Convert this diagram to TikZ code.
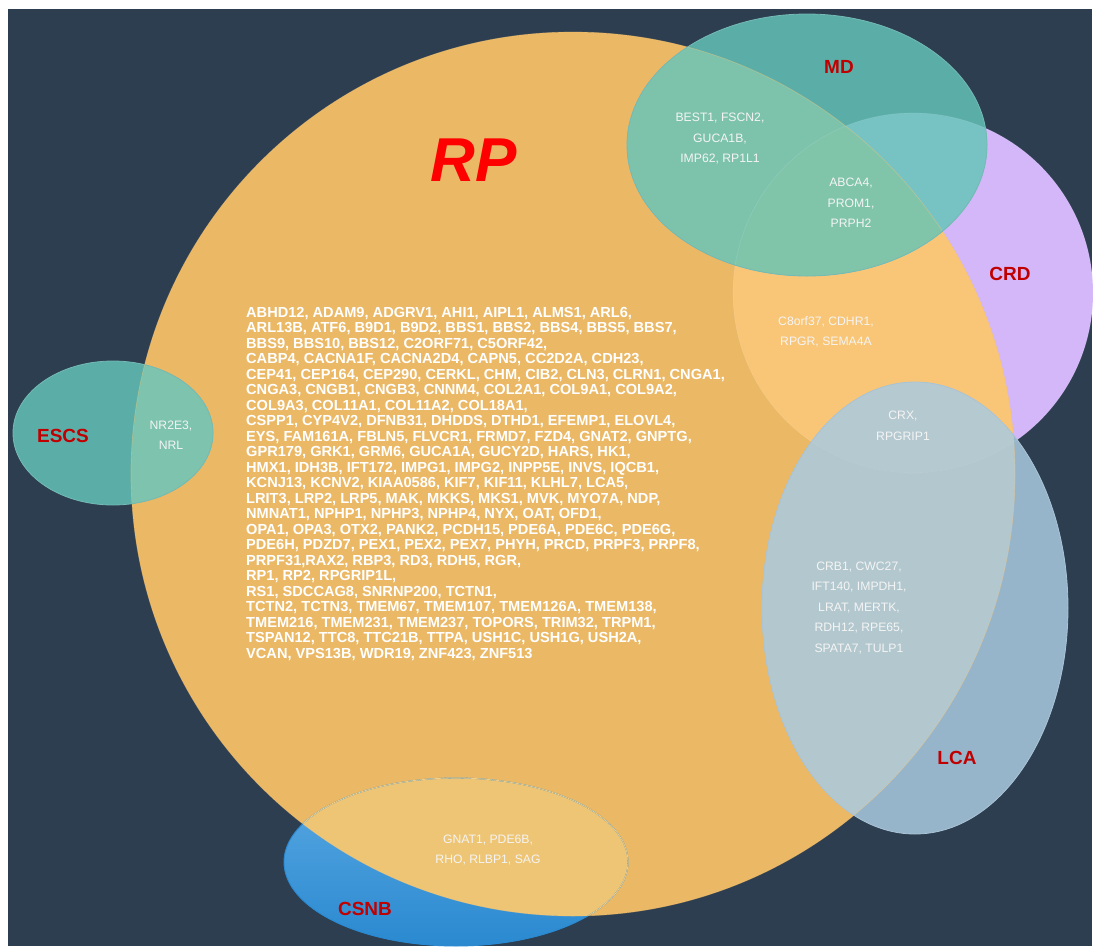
\documentclass[tikz,border=0pt]{standalone}
\usepackage{fontspec}
\setmainfont{Liberation Sans}
\definecolor{bg}{HTML}{2C3E50}
\definecolor{rp}{HTML}{EBB865}
\definecolor{crd}{HTML}{D3B7F8}
\definecolor{rpcrd}{HTML}{F9C678}
\definecolor{md}{HTML}{5BAEA8}
\definecolor{mdrp}{HTML}{7DC3AC}
\definecolor{mdcrd}{HTML}{77C2C3}
\definecolor{mdcrdrp}{HTML}{80C5AA}
\definecolor{lca}{HTML}{96B5CB}
\definecolor{lcarp}{HTML}{B3C8CE}
\definecolor{lcacrd}{HTML}{97B6CC}
\definecolor{lcacrdrp}{HTML}{B5C9D0}
\definecolor{escsrp}{HTML}{7DC3AD}
\definecolor{csnbA}{HTML}{5BA9E2}
\definecolor{csnbB}{HTML}{2A89D0}
\definecolor{csnbrp}{HTML}{EEC574}
\definecolor{lab}{HTML}{C00000}
\definecolor{gene}{HTML}{F4F4F4}
\def\pRP{(573,474) circle [radius=442pt]}
\def\pCRD{(913,293) circle [radius=180pt]}
\def\pMD{(807,145) ellipse [x radius=180pt, y radius=131pt]}
\def\pLCA{(915,608) ellipse [x radius=153pt, y radius=226pt]}
\def\pESCS{(113,433) ellipse [x radius=100pt, y radius=72pt]}
\def\pCSNB{(456,862) ellipse [x radius=172pt, y radius=84pt]}
\tikzset{
  setlabel/.style={text=lab, font=\fontsize{19}{22}\selectfont\bfseries, inner sep=0pt},
  genesmall/.style={text=gene, font=\fontsize{12.2}{20.5}\selectfont, align=center, inner sep=0pt},
  genebig/.style={text=white, font=\fontsize{14.6}{15.5}\selectfont\bfseries, align=left, inner sep=0pt, anchor=north west},
}
\begin{document}
\begin{tikzpicture}[x=1pt,y=-1pt]
\useasboundingbox (0,0) rectangle (1093,946);
\fill[white] (0,0) rectangle (1093,946);
\fill[bg] (8,9) rectangle (1092,946);
% single sets
\fill[crd] \pCRD;
\fill[rp] \pRP;
\fill[md] \pESCS;
\fill[md] \pMD;
\fill[lca] \pLCA;
\shade[top color=csnbA, bottom color=csnbB] \pCSNB;
% overlaps with RP
\begin{scope}
  \clip \pRP;
  \fill[rpcrd] \pCRD;
  \fill[escsrp] \pESCS;
  \fill[csnbrp] \pCSNB;
\end{scope}
% overlaps with MD
\begin{scope}
  \clip \pMD;
  \fill[mdrp] \pRP;
  \fill[mdcrd] \pCRD;
  \clip \pRP;
  \fill[mdcrdrp] \pCRD;
\end{scope}
% overlaps with LCA
\begin{scope}
  \clip \pLCA;
  \fill[lcarp] \pRP;
  \fill[lcacrd] \pCRD;
  \clip \pRP;
  \fill[lcacrdrp] \pCRD;
\end{scope}
% outlines
\draw[line width=0.7pt, color=rpcrd, opacity=0.4] \pRP;
\draw[line width=0.7pt, color=white, opacity=0.1] \pCRD;
\draw[line width=0.8pt, color=md!85!white] \pMD;
\draw[line width=0.8pt, color=md!85!white] \pESCS;
\draw[line width=0.8pt, color=lca!80!white] \pLCA;
\draw[line width=0.9pt, color=csnbB] \pCSNB;
\begin{scope}
  \clip \pRP;
  \draw[line width=0.8pt, color=csnbrp!85!white] \pCSNB;
\end{scope}
% titles
\node[text=red, font=\fontsize{62}{70}\selectfont\bfseries\itshape, inner sep=0pt] (tRP) at (474,160) {RP};
\node[setlabel] (tMD) at (839,67) {MD};
\node[setlabel] (tCRD) at (1010,274) {CRD};
\node[setlabel] (tESCS) at (63,436) {ESCS};
\node[setlabel] (tLCA) at (957,758) {LCA};
\node[setlabel] (tCSNB) at (365,909) {CSNB};
% small gene lists
\node[genesmall] (gMD) at (720,139) {BEST1, FSCN2,\\GUCA1B,\\IMP62, RP1L1};
\node[genesmall] (gMDCRD) at (851,203) {ABCA4,\\PROM1,\\PRPH2};
\node[genesmall] (gCRD) at (826,332) {C8orf37, CDHR1,\\RPGR, SEMA4A};
\node[genesmall] (gCRX) at (903,426) {CRX,\\RPGRIP1};
\node[genesmall] (gLCA) at (859,608) {CRB1, CWC27,\\IFT140, IMPDH1,\\LRAT, MERTK,\\RDH12, RPE65,\\SPATA7, TULP1};
\node[genesmall] (gESCS) at (171,435) {NR2E3,\\NRL};
\node[genesmall] (gCSNB) at (488,850) {GNAT1, PDE6B,\\RHO, RLBP1, SAG};
% big RP list
\node[genebig] (gRP) at (246,306.6) {ABHD12, ADAM9, ADGRV1, AHI1, AIPL1, ALMS1, ARL6,\\
ARL13B, ATF6, B9D1, B9D2, BBS1, BBS2, BBS4, BBS5, BBS7,\\
BBS9, BBS10, BBS12, C2ORF71, C5ORF42,\\
CABP4, CACNA1F, CACNA2D4, CAPN5, CC2D2A, CDH23,\\
CEP41, CEP164, CEP290, CERKL, CHM, CIB2, CLN3, CLRN1, CNGA1,\\
CNGA3, CNGB1, CNGB3, CNNM4, COL2A1, COL9A1, COL9A2,\\
COL9A3, COL11A1, COL11A2, COL18A1,\\
CSPP1, CYP4V2, DFNB31, DHDDS, DTHD1, EFEMP1, ELOVL4,\\
EYS, FAM161A, FBLN5, FLVCR1, FRMD7, FZD4, GNAT2, GNPTG,\\
GPR179, GRK1, GRM6, GUCA1A, GUCY2D, HARS, HK1,\\
HMX1, IDH3B, IFT172, IMPG1, IMPG2, INPP5E, INVS, IQCB1,\\
KCNJ13, KCNV2, KIAA0586, KIF7, KIF11, KLHL7, LCA5,\\
LRIT3, LRP2, LRP5, MAK, MKKS, MKS1, MVK, MYO7A, NDP,\\
NMNAT1, NPHP1, NPHP3, NPHP4, NYX, OAT, OFD1,\\
OPA1, OPA3, OTX2, PANK2, PCDH15, PDE6A, PDE6C, PDE6G,\\
PDE6H, PDZD7, PEX1, PEX2, PEX7, PHYH, PRCD, PRPF3, PRPF8,\\
PRPF31,RAX2, RBP3, RD3, RDH5, RGR,\\
RP1, RP2, RPGRIP1L,\\
RS1, SDCCAG8, SNRNP200, TCTN1,\\
TCTN2, TCTN3, TMEM67, TMEM107, TMEM126A, TMEM138,\\
TMEM216, TMEM231, TMEM237, TOPORS, TRIM32, TRPM1,\\
TSPAN12, TTC8, TTC21B, TTPA, USH1C, USH1G, USH2A,\\
VCAN, VPS13B, WDR19, ZNF423, ZNF513};
\end{tikzpicture}
\end{document}
